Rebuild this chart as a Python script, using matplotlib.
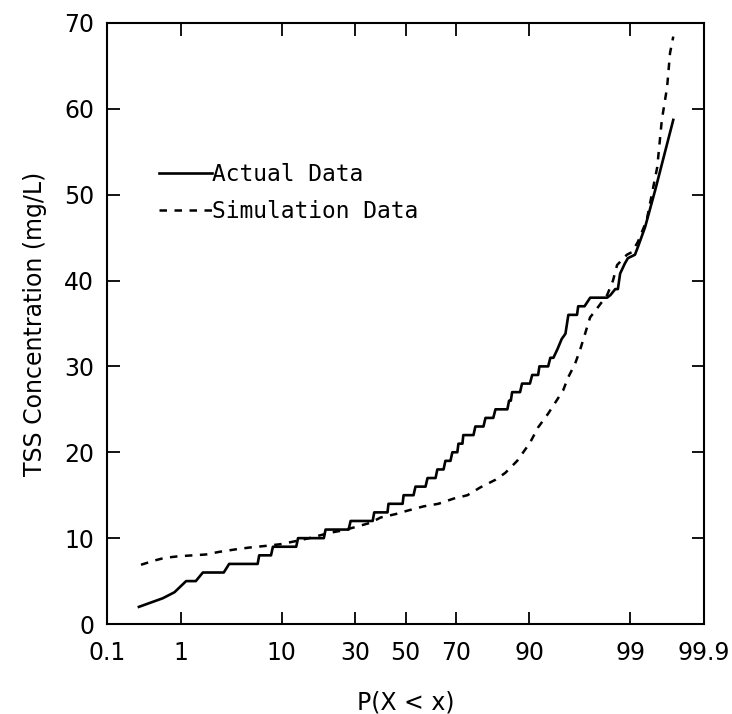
import numpy as np
import matplotlib
matplotlib.use("Agg")
import matplotlib.pyplot as plt
from statistics import NormalDist

# ---------------- data (percent probability, TSS mg/L) ----------------
actual_p = [0.29, 0.6, 0.84, 1.16, 1.5, 1.8, 3.0, 3.4, 6.3, 6.5,
            8.2, 8.5, 12.9, 13.3, 19.9, 20.4, 27.8, 28.5, 36.7, 37.3,
            42.6, 43.0, 48.8, 49.2, 53.3, 54.1, 58.2, 59.0, 62.2, 62.9,
            65.3, 66.0, 67.9, 68.6, 70.4, 70.8, 72.2, 72.5, 75.9, 76.5,
            79.0, 79.6, 81.8, 82.4, 85.4, 85.8, 86.2, 86.5, 88.2, 88.6,
            90.1, 90.5, 91.5, 91.7, 93.0, 93.3, 93.7, 94.2, 94.7, 95.1,
            95.4, 95.6, 96.2, 96.3, 96.8, 97.2, 98.15, 98.3, 98.5, 98.6,
            98.68, 98.84, 98.93, 99.12, 99.19, 99.34, 99.51, 99.72]
actual_y = [2.0, 3.0, 3.7, 5, 5, 6, 6, 7, 7, 8,
            8, 9, 9, 10, 10, 11, 11, 12, 12, 13,
            13, 14, 14, 15, 15, 16, 16, 17, 17, 18,
            18, 19, 19, 20, 20, 21, 21, 22, 22, 23,
            23, 24, 24, 25, 25, 26, 26, 27, 27, 28,
            28, 29, 29, 30, 30, 31, 31, 32, 33.2, 33.8,
            36, 36, 36, 37, 37, 38, 38, 38.3, 39, 39,
            40.8, 42, 42.6, 43, 43.9, 46.2, 50.5, 58.7]

sim_p = [0.31, 0.45, 0.63, 0.96, 1.4, 1.95, 2.68, 3.97, 5.26, 7.42,
         9.85, 13.2, 16.9, 21.3, 25.8, 30.3, 35.9, 39.8, 45.9, 50.8,
         57.4, 63.3, 69.0, 73.9, 78.0, 82.4, 84.9, 87.6, 90.1, 91.5,
         93.0, 94.85, 95.37, 96.03, 96.45, 96.84, 97.19, 97.68, 98.15, 98.41,
         98.57, 98.9, 99.04, 99.19, 99.37, 99.54, 99.6, 99.66, 99.69, 99.72]
sim_y = [6.9, 7.35, 7.7, 7.9, 8.0, 8.1, 8.4, 8.7, 8.9, 9.1,
         9.3, 9.7, 10.1, 10.6, 10.9, 11.3, 11.8, 12.4, 12.8, 13.2,
         13.7, 14.0, 14.6, 15.0, 15.9, 16.8, 17.6, 19.0, 21.1, 22.9,
         24.5, 27.2, 28.7, 30.3, 31.9, 33.8, 35.7, 36.9, 38.3, 40.0,
         41.8, 43.0, 43.3, 44.5, 47.0, 53.2, 58.7, 62.5, 66.5, 68.4]

x_ticks = [0.1, 1, 10, 30, 50, 70, 90, 99, 99.9]
x_tick_labels = ["0.1", "1", "10", "30", "50", "70", "90", "99", "99.9"]
y_ticks = [0, 10, 20, 30, 40, 50, 60, 70]

# ---------------- normal probability scale ----------------
_nd = NormalDist()


def _fwd(x):
    x = np.asarray(x, dtype=float)
    p = np.clip(x / 100.0, 1e-9, 1 - 1e-9)
    out = np.empty_like(p)
    flat = p.ravel()
    res = out.ravel()
    for i, v in enumerate(flat):
        res[i] = _nd.inv_cdf(float(v)) if np.isfinite(v) else np.nan
    return res.reshape(p.shape)


def _inv(z):
    z = np.asarray(z, dtype=float)
    out = np.empty_like(z)
    flat = z.ravel()
    res = out.ravel()
    for i, v in enumerate(flat):
        res[i] = _nd.cdf(float(v)) * 100.0 if np.isfinite(v) else np.nan
    return res.reshape(z.shape)


plt.rcParams["font.family"] = ["DejaVu Sans"]

fig = plt.figure(figsize=(7.32, 7.14), dpi=100)
ax = fig.add_axes([0.146, 0.126, 0.816, 0.842])

ax.plot(actual_p, actual_y, color="black", lw=1.9, solid_joinstyle="round",
        label="Actual Data")
ax.plot(sim_p, sim_y, color="black", lw=1.8, linestyle=(0, (3.0, 3.0)),
        label="Simulation Data")

ax.set_xscale("function", functions=(_fwd, _inv))
ax.set_xlim(0.1, 99.9)
ax.set_ylim(0, 70)

ax.set_xticks(x_ticks)
ax.set_xticklabels(x_tick_labels)
ax.xaxis.set_minor_locator(matplotlib.ticker.NullLocator())
ax.set_yticks(y_ticks)
ax.set_yticklabels([str(v) for v in y_ticks])

ax.tick_params(axis="both", which="major", direction="in", length=9, width=1.3,
               top=True, right=True, labelsize=17)
ax.tick_params(axis="x", pad=12)
ax.tick_params(axis="y", pad=9)

for s in ax.spines.values():
    s.set_linewidth(1.5)

ax.set_xlabel("P(X < x)", fontsize=17)
ax.set_ylabel("TSS Concentration (mg/L)", fontsize=17)
ax.xaxis.set_label_coords(0.5, -0.11)
ax.yaxis.set_label_coords(-0.1, 0.5)

leg = ax.legend(loc="upper left", bbox_to_anchor=(0.088, 0.767), frameon=False,
                handlelength=2.3, handletextpad=0.0, borderpad=0.0,
                borderaxespad=0.0, labelspacing=0.62,
                prop={"family": "DejaVu Sans Mono", "size": 16.5})

fig.savefig("out.png", dpi=100)
